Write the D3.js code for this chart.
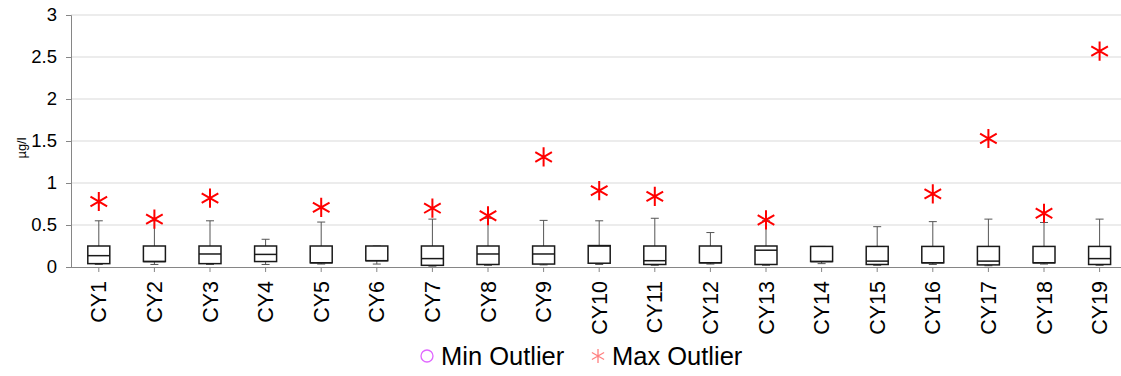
<!DOCTYPE html>
<html>
<head>
<meta charset="utf-8">
<script src="https://cdn.jsdelivr.net/npm/d3@7"></script>
<style>
  body { margin: 0; background: #fff; }
  text { font-family: "Liberation Sans", Arial, sans-serif; }
</style>
</head>
<body>
<div id="canvas"></div>
<script>
const categories = ["CY1","CY2","CY3","CY4","CY5","CY6","CY7","CY8","CY9","CY10",
  "CY11","CY12","CY13","CY14","CY15","CY16","CY17","CY18","CY19"];

// box stats (µg/l)
const whiskerLow = [0.03,0.03,0.03,0.03,0.035,0.035,0.01,0.02,0.025,0.03,0.02,0.035,0.02,0.04,0.02,0.03,0.015,0.035,0.02];
const q1 =         [0.04,0.065,0.04,0.065,0.05,0.075,0.02,0.03,0.035,0.045,0.03,0.05,0.03,0.065,0.03,0.05,0.025,0.05,0.03];
const median =     [0.135,0.065,0.155,0.15,0.05,0.075,0.10,0.155,0.155,0.25,0.075,0.05,0.20,0.065,0.07,0.05,0.07,0.05,0.10];
const q3 =         [0.25,0.25,0.25,0.25,0.25,0.25,0.25,0.25,0.25,0.255,0.25,0.25,0.25,0.245,0.245,0.245,0.245,0.245,0.245];
const whiskerHigh =[0.55,0.55,0.55,0.33,0.535,0.25,0.57,0.58,0.555,0.55,0.58,0.41,0.55,0.245,0.48,0.54,0.57,0.53,0.57];
const maxOutlier = [0.78,0.57,0.82,null,0.71,null,0.70,0.61,1.31,0.91,0.84,null,0.56,null,null,0.87,1.53,0.64,2.57];

const yTicks = [0, 0.5, 1, 1.5, 2, 2.5, 3];
const yTickLabels = ["0","0.5","1","1.5","2","2.5","3"];

const width = 1121;
const height = 376;
const marginLeft = 71;
const plotTop = 15;
const plotBottom = 267;

const x = d3.scaleBand(categories, [marginLeft, marginLeft + 55.6 * categories.length]).padding(0);
const y = d3.scaleLinear([0, 3], [plotBottom, plotTop]);

const svg = d3.select("#canvas")
  .append("svg")
  .attr("width", width)
  .attr("height", height);

// gridlines
svg.append("g")
  .selectAll("line")
  .data(yTicks.slice(1))
  .join("line")
  .attr("x1", marginLeft).attr("x2", width)
  .attr("y1", d => y(d)).attr("y2", d => y(d))
  .attr("stroke", "#d9d9d9")
  .attr("stroke-width", 1);

// y axis
svg.append("g")
  .attr("transform", `translate(${marginLeft},0)`)
  .call(d3.axisLeft(y).tickValues(yTicks).tickSize(5).tickPadding(9)
    .tickFormat((d, i) => yTickLabels[i]))
  .call(g => g.selectAll("path, line").attr("stroke", "#868686"))
  .call(g => g.selectAll("text").attr("font-size", 18.5).attr("fill", "#000")
    .attr("font-family", "Liberation Sans, Arial, sans-serif"));

// x axis
svg.append("g")
  .attr("transform", `translate(0,${plotBottom})`)
  .call(d3.axisBottom(x).tickSize(5).tickSizeOuter(0).tickPadding(16))
  .call(g => g.select(".domain").attr("d", `M${marginLeft},0.5H${width}`))
  .call(g => g.selectAll("path, line").attr("stroke", "#868686"))
  .call(g => g.selectAll("text")
    .attr("font-size", 21.5)
    .attr("fill", "#000")
    .attr("font-family", "Liberation Sans, Arial, sans-serif")
    .attr("text-anchor", "end")
    .attr("dy", "0.35em")
    .attr("transform", "rotate(-90)")
    .attr("x", -14)
    .attr("y", 0));

// y title
svg.append("text")
  .attr("transform", `translate(26,148) rotate(-90)`)
  .attr("text-anchor", "middle")
  .attr("font-size", 13)
  .text("µg/l");

// boxes
const boxW = 22;
const capW = 8;
const g = svg.append("g");
categories.forEach((c, i) => {
  const cx = x(c) + x.bandwidth() / 2;
  // whiskers
  g.append("line")
    .attr("x1", cx).attr("x2", cx)
    .attr("y1", y(q3[i])).attr("y2", y(whiskerHigh[i]))
    .attr("stroke", "#555").attr("stroke-width", 1);
  g.append("line")
    .attr("x1", cx - capW / 2).attr("x2", cx + capW / 2)
    .attr("y1", y(whiskerHigh[i])).attr("y2", y(whiskerHigh[i]))
    .attr("stroke", "#555").attr("stroke-width", 1);
  g.append("line")
    .attr("x1", cx).attr("x2", cx)
    .attr("y1", y(q1[i])).attr("y2", y(whiskerLow[i]))
    .attr("stroke", "#555").attr("stroke-width", 1);
  g.append("line")
    .attr("x1", cx - capW / 2).attr("x2", cx + capW / 2)
    .attr("y1", y(whiskerLow[i])).attr("y2", y(whiskerLow[i]))
    .attr("stroke", "#555").attr("stroke-width", 1);
  // box
  g.append("rect")
    .attr("x", cx - boxW / 2)
    .attr("y", y(q3[i]))
    .attr("width", boxW)
    .attr("height", y(q1[i]) - y(q3[i]))
    .attr("fill", "#fff")
    .attr("stroke", "#1a1a1a")
    .attr("stroke-width", 1.5);
  g.append("line")
    .attr("x1", cx - boxW / 2).attr("x2", cx + boxW / 2)
    .attr("y1", y(median[i])).attr("y2", y(median[i]))
    .attr("stroke", "#1a1a1a").attr("stroke-width", 1.5);
});

// max outliers
const star = d3.symbol(d3.symbolAsterisk, 260);
svg.append("g")
  .selectAll("path")
  .data(categories.map((c, i) => ({ c, v: maxOutlier[i] })).filter(d => d.v != null))
  .join("path")
  .attr("transform", d => `translate(${x(d.c) + x.bandwidth() / 2},${y(d.v)})`)
  .attr("d", star)
  .attr("fill", "none")
  .attr("stroke", "#ff0000")
  .attr("stroke-width", 2);

// legend
const legend = svg.append("g").attr("font-size", 25.5);
legend.append("circle")
  .attr("cx", 427).attr("cy", 356).attr("r", 6)
  .attr("fill", "none").attr("stroke", "#e066ff").attr("stroke-width", 1.3);
legend.append("text").attr("x", 441).attr("y", 365).text("Min Outlier");
legend.append("path")
  .attr("transform", "translate(598,356)")
  .attr("d", d3.symbol(d3.symbolAsterisk, 140)())
  .attr("fill", "none").attr("stroke", "#ff8080").attr("stroke-width", 1.3);
legend.append("text").attr("x", 612).attr("y", 365).text("Max Outlier");
</script>
</body>
</html>
